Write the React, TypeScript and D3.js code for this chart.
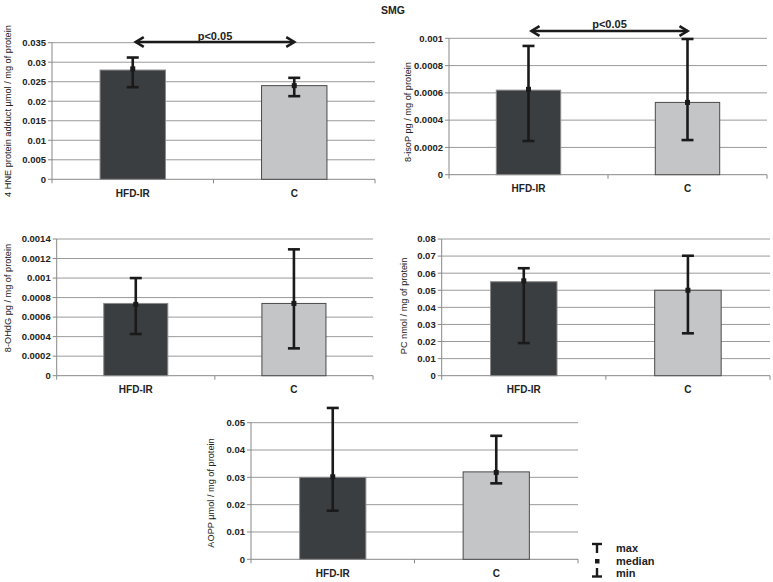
import React from "react";
import * as d3 from "d3";

const categories = ["HFD-IR", "C"];

const hneMean = [0.028, 0.024];
const hneMedian = [0.0283, 0.024];
const hneMin = [0.0236, 0.0213];
const hneMax = [0.0312, 0.026];
const hneTicks = [0, 0.005, 0.01, 0.015, 0.02, 0.025, 0.03, 0.035];

const isoMean = [0.00062, 0.00053];
const isoMedian = [0.000626, 0.00053];
const isoMin = [0.000247, 0.000254];
const isoMax = [0.000944, 0.000995];
const isoTicks = [0, 0.0002, 0.0004, 0.0006, 0.0008, 0.001];

const ohdgMean = [0.00074, 0.00074];
const ohdgMedian = [0.00073, 0.00074];
const ohdgMin = [0.000427, 0.00028];
const ohdgMax = [0.001, 0.001294];
const ohdgTicks = [0, 0.0002, 0.0004, 0.0006, 0.0008, 0.001, 0.0012, 0.0014];

const pcMean = [0.055, 0.05];
const pcMedian = [0.0555, 0.05];
const pcMin = [0.0191, 0.0248];
const pcMax = [0.0629, 0.0702];
const pcTicks = [0, 0.01, 0.02, 0.03, 0.04, 0.05, 0.06, 0.07, 0.08];

const aoppMean = [0.03, 0.032];
const aoppMedian = [0.0302, 0.0318];
const aoppMin = [0.0178, 0.0278];
const aoppMax = [0.0554, 0.0452];
const aoppTicks = [0, 0.01, 0.02, 0.03, 0.04, 0.05];

const legendLabels = ["max", "median", "min"];

const barFill = ["#3a3e40", "#c3c5c6"];
const barStroke = ["#8a8a8a", "#4a4a4a"];
const ink = "#1a1a1a";
const FONT = "Liberation Sans, Arial, sans-serif";

type PanelProps = {
  left: number; right: number; top: number; bottom: number;
  ticks: number[]; mean: number[]; median: number[]; min: number[]; max: number[];
  label: string; labelX: number; labelY?: number; pArrowY?: number; pTextY?: number;
};

function Panel(p: PanelProps) {
  const yMax = p.ticks[p.ticks.length - 1];
  const y = d3.scaleLinear().domain([0, yMax]).range([p.bottom, p.top]);
  const x = d3.scaleBand().domain(categories).range([p.left, p.right]).padding(0);
  const bw = x.bandwidth() * 0.405;
  const cx = (c: string) => (x(c) as number) + x.bandwidth() / 2;
  const cap = 6;
  const mid = p.labelY !== undefined ? p.labelY : (p.top + p.bottom) / 2;
  const boundaries = [p.left, ...categories.map((c) => (x(c) as number) + x.bandwidth())];
  return (
    <g>
      {p.ticks.map((t) => (
        <g key={t}>
          {t > 0 && (
            <line x1={p.left} x2={p.right} y1={y(t)} y2={y(t)} stroke="#9a9a9a" strokeWidth={1} />
          )}
          <line x1={p.left - 4} x2={p.left} y1={y(t)} y2={y(t)} stroke="#888" strokeWidth={1} />
          <text x={p.left - 6} y={y(t)} dy="0.35em" textAnchor="end" fontSize={9.5}
            fontWeight="bold" fontFamily={FONT} fill="#222">{String(t)}</text>
        </g>
      ))}
      <line x1={p.left} x2={p.left} y1={p.top} y2={p.bottom} stroke="#888" strokeWidth={1} />
      <line x1={p.left} x2={p.right} y1={p.bottom} y2={p.bottom} stroke="#888" strokeWidth={1} />
      {boundaries.map((b, i) => (
        <line key={i} x1={b} x2={b} y1={p.bottom} y2={p.bottom + 4} stroke="#888" strokeWidth={1} />
      ))}
      {categories.map((c, i) => (
        <g key={c}>
          <rect x={cx(c) - bw / 2} y={y(p.mean[i])} width={bw} height={p.bottom - y(p.mean[i])}
            fill={barFill[i]} stroke={barStroke[i]} strokeWidth={1} />
          <line x1={cx(c)} x2={cx(c)} y1={y(p.max[i])} y2={y(p.min[i])} stroke={ink} strokeWidth={2.6} />
          <line x1={cx(c) - cap} x2={cx(c) + cap} y1={y(p.max[i])} y2={y(p.max[i])} stroke={ink} strokeWidth={2.6} />
          <line x1={cx(c) - cap} x2={cx(c) + cap} y1={y(p.min[i])} y2={y(p.min[i])} stroke={ink} strokeWidth={2.6} />
          <rect x={cx(c) - 2.5} y={y(p.median[i]) - 2.5} width={5} height={5} fill={ink} />
          <text x={cx(c)} y={p.bottom + 17.5} textAnchor="middle" fontSize={10} fontWeight="bold"
            fontFamily={FONT} fill="#222">{c}</text>
        </g>
      ))}
      <text transform={`translate(${p.labelX},${mid}) rotate(-90)`} textAnchor="middle" dy="0.35em"
        fontSize={9.2} fontFamily={FONT} fill="#222">{p.label}</text>
      {p.pArrowY !== undefined && (() => {
        const x1 = cx(categories[0]) + 2;
        const x2 = cx(categories[1]) + 1;
        const ay = p.pArrowY as number;
        return (
          <g>
            <line x1={x1 + 1} x2={x2 - 1} y1={ay} y2={ay} stroke={ink} strokeWidth={2.6} />
            <polyline points={`${x1 + 9},${ay - 4.8} ${x1 + 1},${ay} ${x1 + 9},${ay + 4.8}`} fill="none" stroke={ink} strokeWidth={2.6} />
            <polyline points={`${x2 - 9},${ay - 4.8} ${x2 - 1},${ay} ${x2 - 9},${ay + 4.8}`} fill="none" stroke={ink} strokeWidth={2.6} />
            <text x={(x1 + x2) / 2} y={p.pTextY} textAnchor="middle" fontSize={11} fontWeight="bold"
              fontFamily={FONT} fill="#222">p&lt;0.05</text>
          </g>
        );
      })()}
    </g>
  );
}

export default function App() {
  return (
    <svg width={773} height={582} style={{ position: "absolute", left: 0, top: 0, background: "#fff" }}>
      <rect width={773} height={582} fill="#fff" />
      <text x={393} y={14} textAnchor="middle" fontSize={10.5} fontWeight="bold" fontFamily={FONT} fill="#222">SMG</text>
      <Panel left={52} right={375} top={42.7} bottom={179.3} ticks={hneTicks} mean={hneMean}
        median={hneMedian} min={hneMin} max={hneMax}
        label="4 HNE protein adduct µmol / mg of protein" labelX={8} pArrowY={42} pTextY={40} />
      <Panel left={449} right={767} top={38.3} bottom={174.7} ticks={isoTicks} mean={isoMean}
        median={isoMedian} min={isoMin} max={isoMax}
        label="8-isoP pg / mg of protein" labelX={407.5} labelY={112} pArrowY={31} pTextY={28} />
      <Panel left={56.7} right={373} top={239} bottom={375.7} ticks={ohdgTicks} mean={ohdgMean}
        median={ohdgMedian} min={ohdgMin} max={ohdgMax}
        label="8-OHdG pg / mg of protein" labelX={8} labelY={298} />
      <Panel left={441.7} right={770} top={239} bottom={375.7} ticks={pcTicks} mean={pcMean}
        median={pcMedian} min={pcMin} max={pcMax}
        label="PC nmol / mg of protein" labelX={404} labelY={306} />
      <Panel left={251} right={578} top={422.7} bottom={559.3} ticks={aoppTicks} mean={aoppMean}
        median={aoppMedian} min={aoppMin} max={aoppMax}
        label="AOPP µmol / mg of protein" labelX={211} labelY={493} />
      <g>
        <line x1={592} x2={602} y1={544} y2={544} stroke={ink} strokeWidth={2.4} />
        <line x1={597} x2={597} y1={544} y2={553} stroke={ink} strokeWidth={2.4} />
        <rect x={595} y={559} width={4.5} height={4.5} fill={ink} />
        <line x1={597} x2={597} y1={568} y2={576.5} stroke={ink} strokeWidth={2.4} />
        <line x1={592} x2={602} y1={576.5} y2={576.5} stroke={ink} strokeWidth={2.4} />
        {legendLabels.map((l, i) => (
          <text key={l} x={616} y={548.5 + i * 12.2} dy="0.35em" fontSize={11} fontWeight="bold"
            fontFamily={FONT} fill="#222">{l}</text>
        ))}
      </g>
    </svg>
  );
}
